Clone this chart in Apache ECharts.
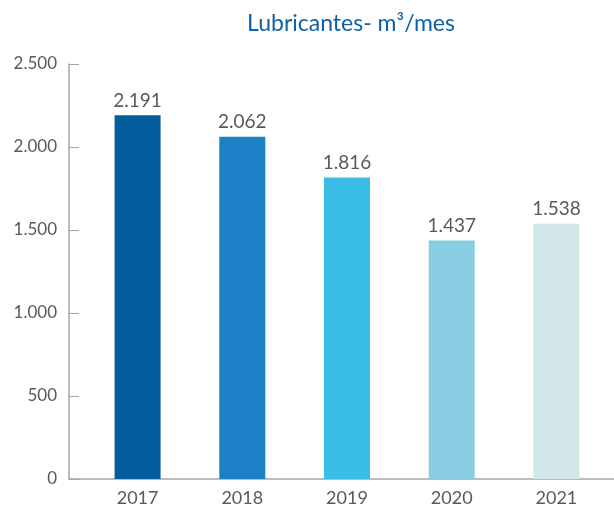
<!DOCTYPE html>
<html>
<head>
<meta charset="utf-8">
<script src="https://cdn.jsdelivr.net/npm/echarts@6/dist/echarts.min.js"></script>
<style>
  html, body { margin: 0; padding: 0; background: #fff; }
  #chart { width: 614px; height: 514px; }
</style>
</head>
<body>
<div id="chart"></div>
<script>
// datos
var years = ['2017', '2018', '2019', '2020', '2021'];
var values = [2191, 2062, 1816, 1437, 1538];
var barColors = ['#035c9c', '#1c80c6', '#3abde6', '#88cde2', '#d0e6e7'];

function fmt(v) {
    // separador de miles con punto
    return String(v).replace(/\B(?=(\d{3})+(?!\d))/g, '.');
}

var chart = echarts.init(document.getElementById('chart'));

var option = {
    animation: false,
    title: {
        text: 'Lubricantes- m³/mes',
        left: 346,
        textAlign: 'center',
        top: 7,
        textStyle: {
            color: '#0d62a6',
            fontSize: 23,
            fontWeight: 'normal',
            fontFamily: 'Lato'
        }
    },
    grid: { left: 69, right: 0, top: 64, bottom: 35 },
    xAxis: {
        type: 'value',
        min: -0.655,
        max: 4.55,
        splitLine: { show: false },
        axisLine: { show: true, lineStyle: { color: '#a6a6a6', width: 1.5 } },
        axisTick: { show: false },
        axisLabel: {
            customValues: [0, 1, 2, 3, 4],
            formatter: function (v) { return years[Math.round(v)]; },
            color: '#595959',
            fontSize: 18,
            fontFamily: 'Lato',
            margin: 10
        }
    },
    yAxis: {
        type: 'value',
        min: 0,
        max: 2500,
        interval: 500,
        splitLine: { show: false },
        axisLine: { show: true, onZero: false, lineStyle: { color: '#a6a6a6', width: 1.5 } },
        axisTick: { show: true, inside: true, length: 10, lineStyle: { color: '#a6a6a6' } },
        axisLabel: {
            formatter: function (v) { return fmt(v); },
            color: '#595959',
            fontSize: 17,
            fontFamily: 'Lato',
            margin: 12
        }
    },
    series: [{
        type: 'bar',
        barWidth: 46,
        data: values.map(function (v, i) {
            return { value: [i, v], itemStyle: { color: barColors[i] } };
        }),
        label: {
            show: true,
            position: 'top',
            distance: 5,
            formatter: function (p) { return fmt(p.value[1]); },
            color: '#595959',
            fontSize: 19,
            fontFamily: 'Lato'
        }
    }]
};

chart.setOption(option);
</script>
</body>
</html>
